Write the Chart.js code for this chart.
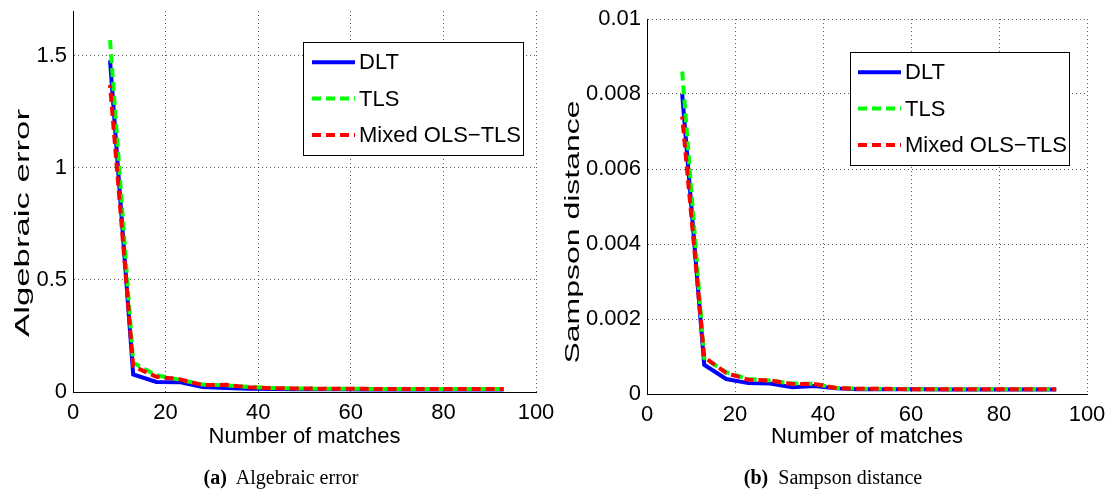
<!DOCTYPE html>
<html>
<head>
<meta charset="utf-8">
<title>Error vs number of matches</title>
<script src="https://cdn.jsdelivr.net/npm/chart.js@4.4.1/dist/chart.umd.min.js"></script>
<style>
    html, body { margin: 0; padding: 0; background: #fff; }
    body { width: 1114px; height: 491px; position: relative; overflow: hidden; }
    canvas { position: absolute; top: 0; }
    #algebraicChart { left: 0; }
    #sampsonChart { left: 557px; }
    .caption {
        position: absolute;
        top: 466px;
        font-family: "Liberation Serif", "Times New Roman", serif;
        font-size: 20px;
        line-height: 22px;
        color: #000;
        white-space: nowrap;
        transform: translateX(-50%);
    }
</style>
</head>
<body>
<canvas id="algebraicChart" width="557" height="491"></canvas>
<canvas id="sampsonChart" width="557" height="491"></canvas>
<div class="caption" style="left:281px"><b>(a)</b>&nbsp; Algebraic error</div>
<div class="caption" style="left:833px"><b>(b)</b>&nbsp; Sampson distance</div>

<script>
// Number of point matches used for each estimate
const matches = [8, 13, 18, 23, 28, 33, 38, 43, 48, 53, 58, 63, 68, 73, 78, 83, 88, 93];
const seriesNames = ['DLT', 'TLS', 'Mixed OLS\u2212TLS'];

// Algebraic error per method
const algebraicDLT = [1.48, 0.078, 0.045, 0.044, 0.022, 0.018, 0.015, 0.013, 0.012, 0.012, 0.012, 0.011, 0.011, 0.011, 0.011, 0.011, 0.011, 0.011];
const algebraicTLS = [1.57, 0.13, 0.075, 0.055, 0.033, 0.030, 0.022, 0.018, 0.016, 0.015, 0.014, 0.014, 0.013, 0.013, 0.013, 0.013, 0.013, 0.013];
const algebraicMixed = [1.37, 0.115, 0.068, 0.057, 0.031, 0.032, 0.021, 0.017, 0.016, 0.015, 0.014, 0.014, 0.013, 0.013, 0.013, 0.013, 0.013, 0.013];

// Sampson distance per method
const sampsonDLT = [0.0080, 0.00078, 0.00040, 0.00029, 0.00028, 0.00018, 0.00021, 0.00015, 0.00013, 0.00013, 0.00013, 0.00013, 0.00012, 0.00012, 0.00012, 0.00012, 0.00012, 0.00012];
const sampsonTLS = [0.0086, 0.00096, 0.00058, 0.00040, 0.00036, 0.00028, 0.00027, 0.00016, 0.00014, 0.00014, 0.00013, 0.00013, 0.00013, 0.00013, 0.00013, 0.00013, 0.00013, 0.00013];
const sampsonMixed = [0.0074, 0.00098, 0.00056, 0.00038, 0.00036, 0.00027, 0.00027, 0.00016, 0.00014, 0.00014, 0.00013, 0.00013, 0.00013, 0.00013, 0.00013, 0.00013, 0.00013, 0.00013];

// Axis ticks
const xTicks = [0, 20, 40, 60, 80, 100];
const xTickLabels = ['0', '20', '40', '60', '80', '100'];
const algebraicTicks = [0, 0.5, 1, 1.5];
const algebraicTickLabels = ['0', '0.5', '1', '1.5'];
const sampsonTicks = [0, 0.002, 0.004, 0.006, 0.008, 0.01];
const sampsonTickLabels = ['0', '0.002', '0.004', '0.006', '0.008', '0.01'];

const FONT_FAMILY = '"Liberation Sans", Arial, Helvetica, sans-serif';
const axisFont = { family: FONT_FAMILY, size: 22 };

// Blue solid, green dashed, red dashed on top
const lineStyles = [
    { borderColor: '#0000ff', borderWidth: 4, borderDash: [], borderDashOffset: 0, order: 3 },
    { borderColor: '#00ff00', borderWidth: 4, borderDash: [9, 5], borderDashOffset: 0, order: 2 },
    { borderColor: '#ff0000', borderWidth: 4, borderDash: [9, 5], borderDashOffset: 6, order: 1 }
];

// Legend drawn as a framed box inside the plot area
const boxLegend = {
    id: 'boxLegend',
    afterDatasetsDraw(chart, args, opts) {
        const { ctx, chartArea } = chart;
        const datasets = chart.data.datasets;
        ctx.save();
        ctx.font = opts.font;
        const textW = Math.max(...datasets.map(d => ctx.measureText(d.label).width));
        const w = opts.padLeft + opts.sampleLength + opts.gap + textW + opts.padRight;
        const h = opts.rowHeight * datasets.length + opts.padY * 2;
        const x0 = Math.round(chartArea.right - opts.right - w);
        const y0 = Math.round(chartArea.top + opts.top);

        ctx.fillStyle = '#fff';
        ctx.fillRect(x0, y0, w, h);
        ctx.strokeStyle = '#000';
        ctx.lineWidth = 1;
        ctx.strokeRect(x0 + 0.5, y0 + 0.5, Math.round(w), Math.round(h));

        datasets.forEach((ds, i) => {
            const cy = y0 + opts.padY + opts.rowHeight * (i + 0.5);
            const sx = x0 + opts.padLeft;
            ctx.beginPath();
            ctx.strokeStyle = ds.borderColor;
            ctx.lineWidth = ds.borderWidth;
            ctx.lineCap = 'butt';
            ctx.setLineDash(ds.borderDash || []);
            ctx.lineDashOffset = 0;
            ctx.moveTo(sx, cy);
            ctx.lineTo(sx + opts.sampleLength, cy);
            ctx.stroke();
            ctx.setLineDash([]);

            ctx.fillStyle = '#000';
            ctx.textAlign = 'left';
            ctx.textBaseline = 'middle';
            ctx.fillText(ds.label, sx + opts.sampleLength + opts.gap, cy + 1);
        });
        ctx.restore();
    }
};

// Rotated y-axis title, stretched along its length
const stretchedTitle = {
    id: 'stretchedTitle',
    afterDraw(chart, args, opts) {
        const { ctx } = chart;
        ctx.save();
        ctx.font = opts.font;
        const w = ctx.measureText(opts.text).width;
        ctx.translate(opts.x, opts.y);
        ctx.rotate(-Math.PI / 2);
        ctx.scale(opts.span / w, 1);
        ctx.fillStyle = '#000';
        ctx.textAlign = 'center';
        ctx.textBaseline = 'middle';
        ctx.fillText(opts.text, 0, 0);
        ctx.restore();
    }
};

function buildDatasets(seriesList) {
    return seriesList.map((values, i) => ({
        label: seriesNames[i],
        data: matches.map((m, j) => ({ x: m, y: values[j] })),
        ...lineStyles[i],
        pointRadius: 0,
        tension: 0,
        fill: false
    }));
}

function buildScales(yMax, yTicks, yTickLabels, yWidth, xHeight) {
    const grid = {
        color: 'rgba(0, 0, 0, 0.65)',
        lineWidth: 1,
        drawTicks: false
    };
    const border = { display: true, color: '#000', width: 1, dash: [1, 3] };
    return {
        x: {
            type: 'linear',
            min: 0,
            max: 100,
            afterBuildTicks: s => { s.ticks = xTicks.map(v => ({ value: v })); },
            afterFit: s => {
                s.height = xHeight;
                s.paddingLeft = 0;
                s.paddingRight = 0;
            },
            grid: grid,
            border: border,
            ticks: {
                font: axisFont,
                color: '#000',
                padding: 8,
                maxRotation: 0,
                autoSkip: false,
                callback: v => xTickLabels[xTicks.indexOf(v)]
            },
            title: {
                display: true,
                text: 'Number of matches',
                font: axisFont,
                color: '#000',
                padding: 0
            }
        },
        y: {
            type: 'linear',
            min: 0,
            max: yMax,
            afterBuildTicks: s => { s.ticks = yTicks.map(v => ({ value: v })); },
            afterFit: s => {
                s.width = yWidth;
                s.paddingTop = 0;
                s.paddingBottom = 0;
            },
            grid: grid,
            border: border,
            ticks: {
                font: axisFont,
                color: '#000',
                padding: 6,
                autoSkip: false,
                callback: v => yTickLabels[yTicks.indexOf(v)]
            }
        }
    };
}

function renderChart(canvasId, seriesList, opts) {
    const ctx = document.getElementById(canvasId).getContext('2d');
    return new Chart(ctx, {
        type: 'line',
        data: { datasets: buildDatasets(seriesList) },
        options: {
            responsive: false,
            animation: false,
            devicePixelRatio: 1,
            layout: { padding: opts.padding },
            scales: buildScales(opts.yMax, opts.yTicks, opts.yTickLabels, opts.yWidth, opts.xHeight),
            plugins: {
                legend: { display: false },
                tooltip: { enabled: false },
                boxLegend: {
                    font: '22px ' + FONT_FAMILY,
                    right: opts.legendRight,
                    top: opts.legendTop,
                    padLeft: opts.legendPadLeft,
                    sampleLength: 43,
                    gap: 4,
                    padRight: 2,
                    rowHeight: 36.4,
                    padY: 2
                },
                stretchedTitle: {
                    text: opts.yTitle,
                    font: '21px ' + FONT_FAMILY,
                    x: opts.yTitleX,
                    y: opts.yTitleY,
                    span: opts.yTitleSpan
                }
            }
        },
        plugins: [boxLegend, stretchedTitle]
    });
}

renderChart('algebraicChart', [algebraicDLT, algebraicTLS, algebraicMixed], {
    padding: { top: 11, right: 21, bottom: 41, left: 0 },
    yMax: 1.7,
    yTicks: algebraicTicks,
    yTickLabels: algebraicTickLabels,
    yWidth: 73,
    xHeight: 58,
    legendRight: 13,
    legendTop: 31,
    legendPadLeft: 9,
    yTitle: 'Algebraic error',
    yTitleX: 23,
    yTitleY: 223,
    yTitleSpan: 228
});

renderChart('sampsonChart', [sampsonDLT, sampsonTLS, sampsonMixed], {
    padding: { top: 19, right: 27, bottom: 41, left: 0 },
    yMax: 0.01,
    yTicks: sampsonTicks,
    yTickLabels: sampsonTickLabels,
    yWidth: 90,
    xHeight: 56,
    legendRight: 18,
    legendTop: 33,
    legendPadLeft: 8,
    yTitle: 'Sampson distance',
    yTitleX: 16,
    yTitleY: 232,
    yTitleSpan: 263
});
</script>
</body>
</html>
